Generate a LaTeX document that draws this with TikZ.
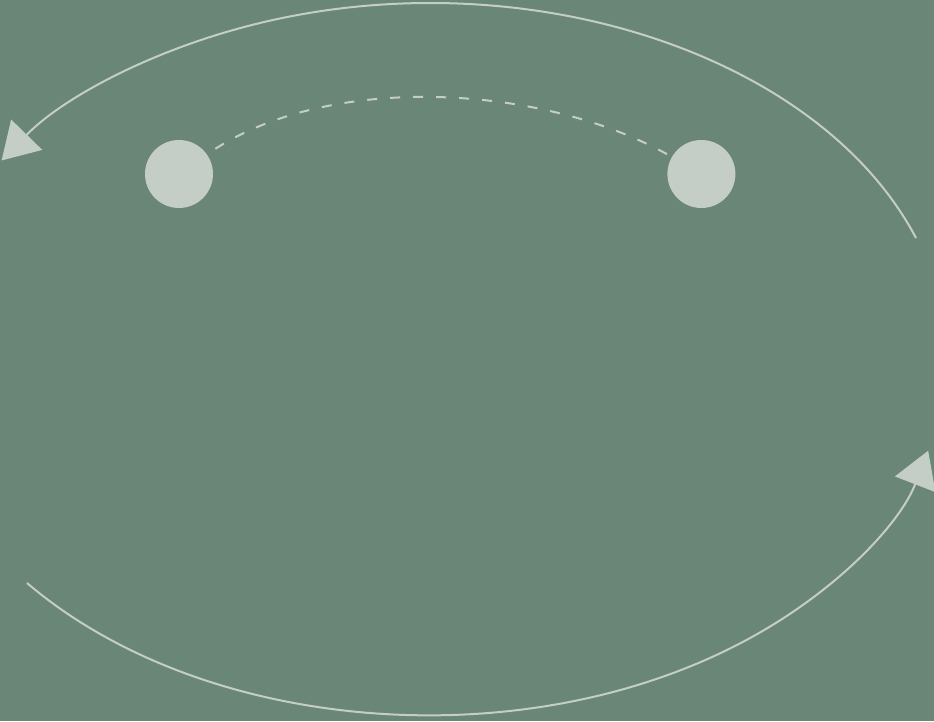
\documentclass[tikz,border=0pt]{standalone}
\usepackage{xcolor}
\usepackage{tikz}
\usetikzlibrary{arrows.meta, positioning}
\definecolor{sage}{HTML}{6A8676}
\definecolor{mist}{HTML}{C5CEC6}
\tikzset{
  dot/.style={circle, fill=mist, draw=none, inner sep=0pt, minimum size=68pt},
  link/.style={draw=mist, line width=2pt, dash pattern=on 10pt off 13pt, dash phase=13pt},
  loop/.style={draw=mist, line width=2pt, -{Triangle[length=36pt, width=43pt, fill=mist]}},
}
\begin{document}
\begin{tikzpicture}[x=1pt, y=1pt]
  \useasboundingbox (0,0) rectangle (934,721);
  \fill[sage] (0,0) rectangle (934,721);
  \node[dot] (l) at (179,547) {};
  \node[dot, right=454pt of l] (r) {};
  \coordinate (topstart) at (916,483);
  \coordinate (botstart) at (27,138);

  \draw[link] (l) to[out=35, in=150, looseness=0.8] (r);
  \draw[loop] (topstart) arc[start angle=20, end angle=146, x radius=517, y radius=357];
  \draw[loop] (botstart) arc[start angle=219, end angle=345, x radius=517, y radius=357];
\end{tikzpicture}
\end{document}
